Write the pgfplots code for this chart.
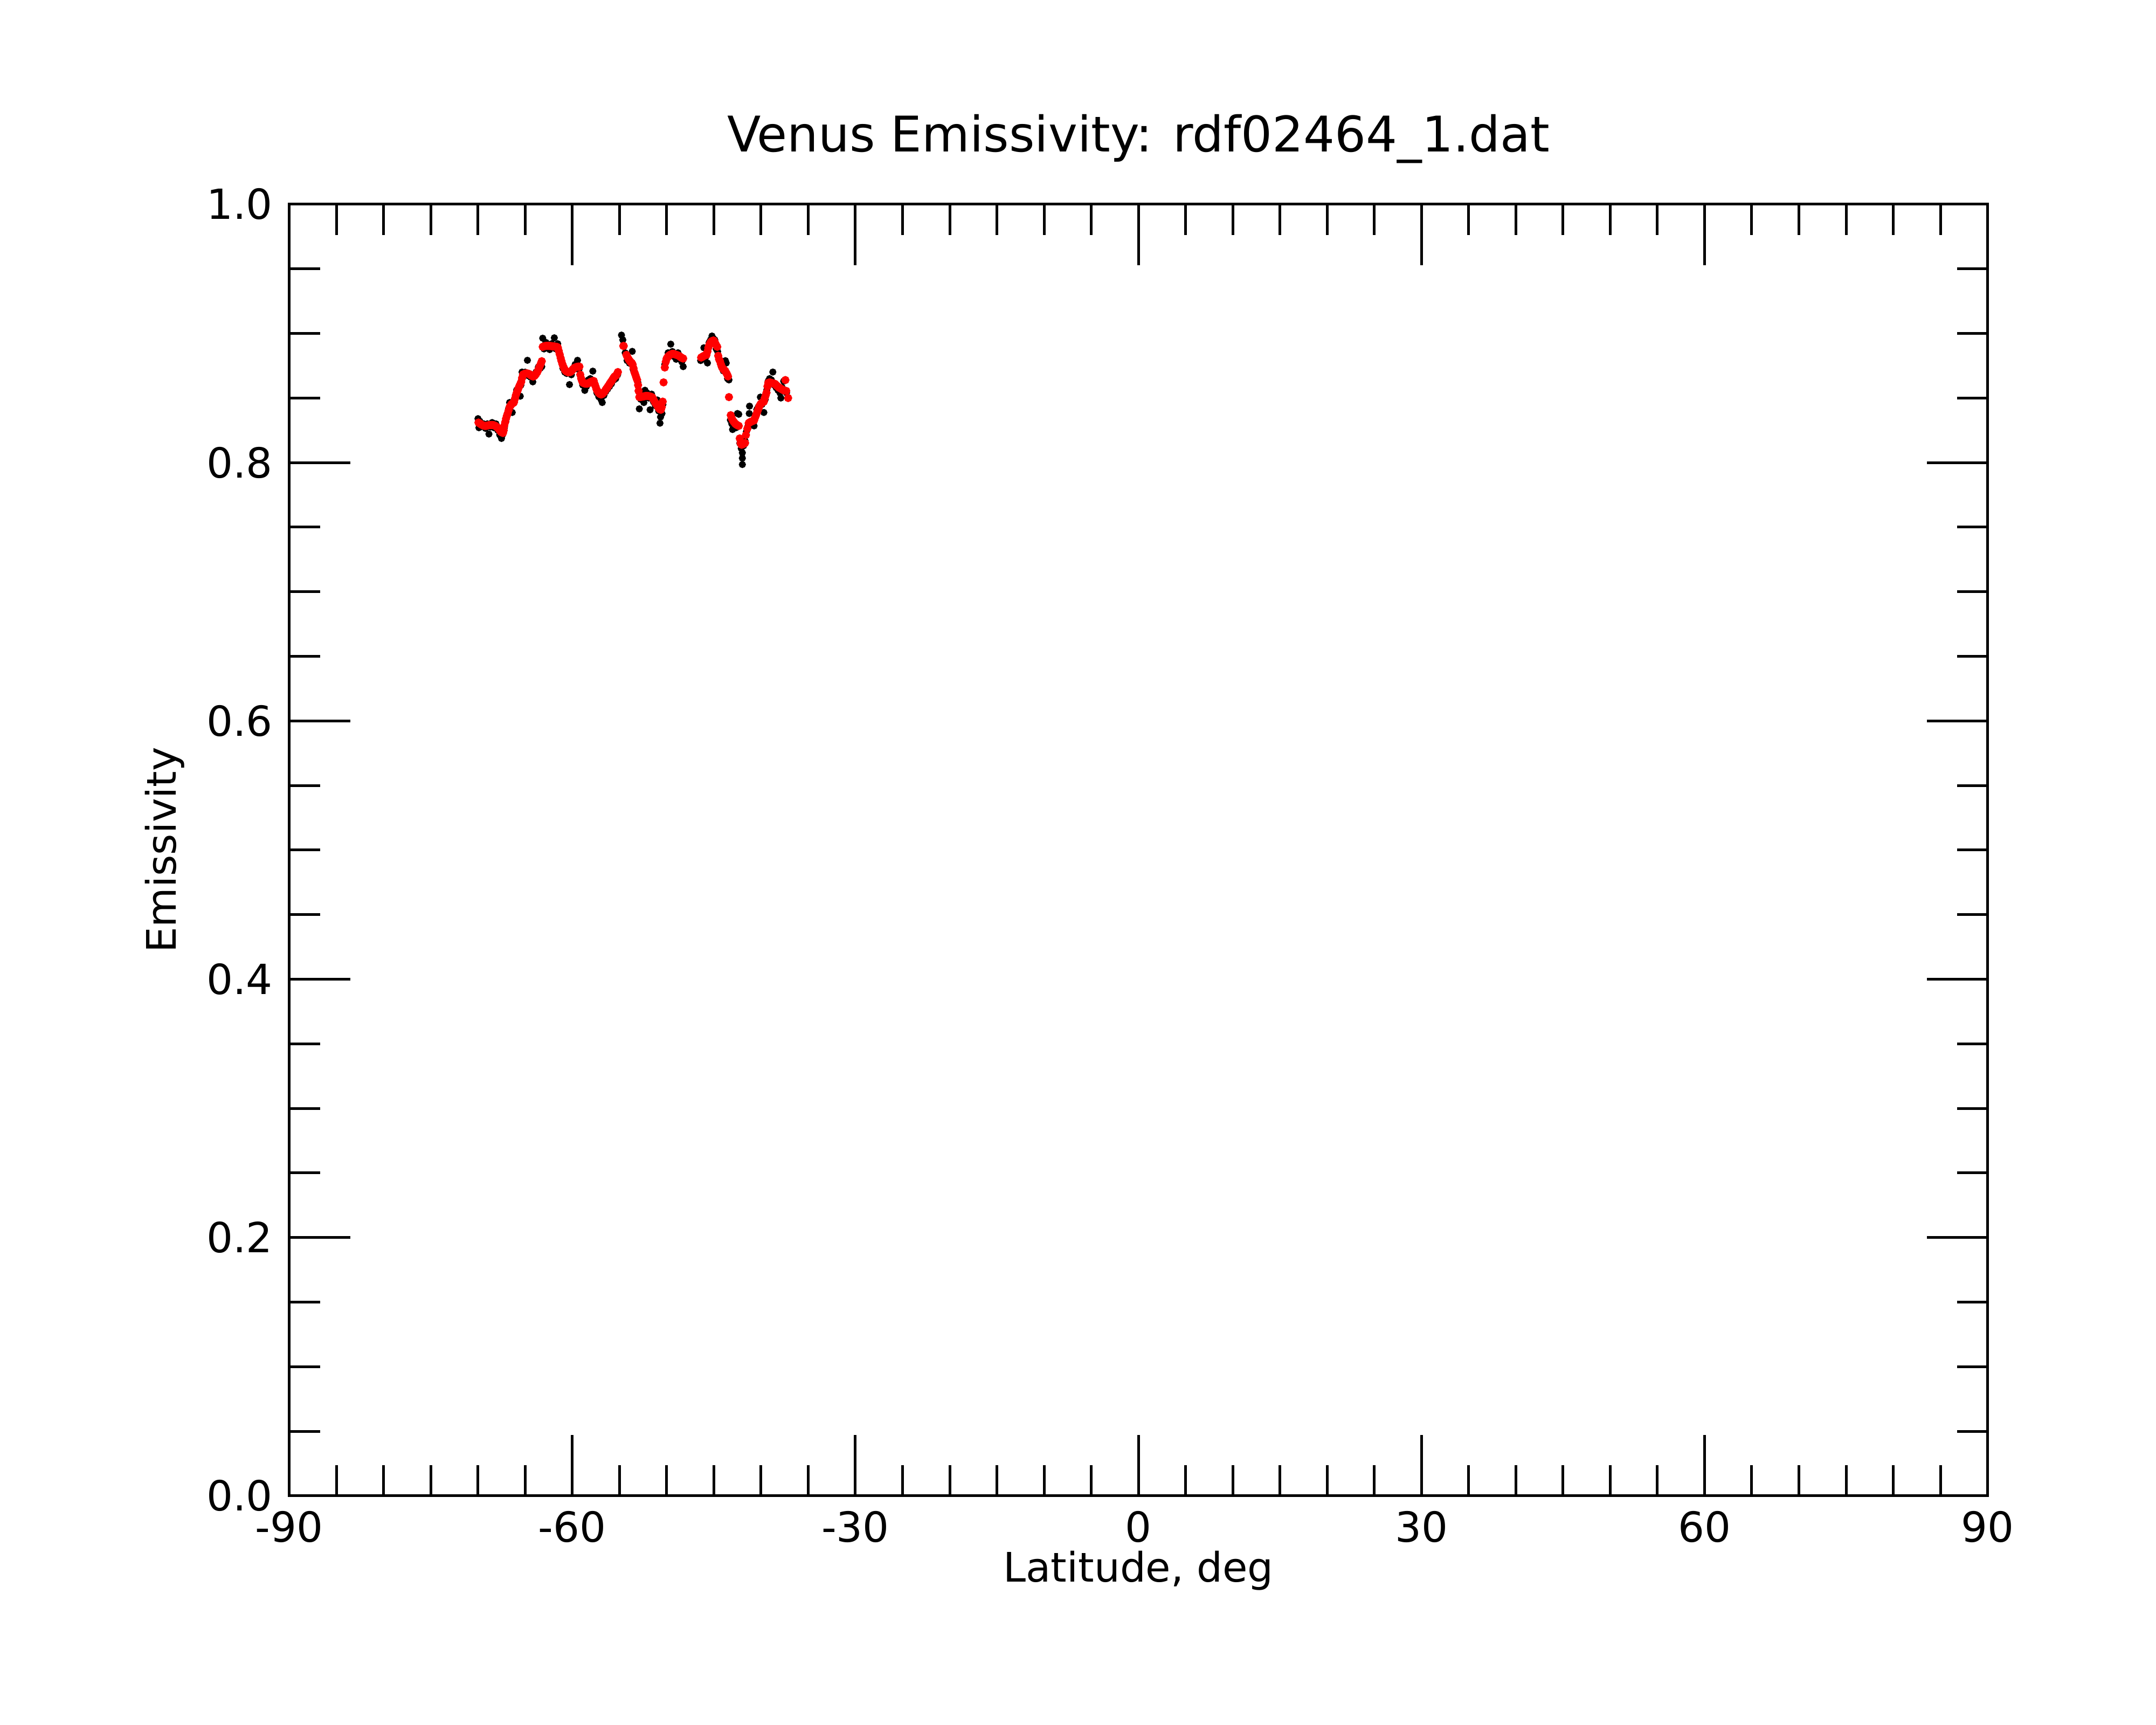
\documentclass[border=0pt]{standalone}
\usepackage{fontspec}
\setmainfont{DejaVu Sans}
\usepackage{pgfplots}
\pgfplotsset{compat=1.18}
\newcommand{\tickfont}{\fontsize{7.7pt}{9pt}\selectfont}
\newcommand{\labelfont}{\fontsize{7.55pt}{9pt}\selectfont}
\newcommand{\titlefont}{\fontsize{9.12pt}{11pt}\selectfont}
\begin{document}
\begin{tikzpicture}
\path[use as bounding box] (0,0) rectangle (400pt,320pt);
\begin{axis}[
  at={(53.67pt,42.5pt)}, anchor=south west,
  width=315.1pt, height=239.6pt, scale only axis,
  xmin=-90, xmax=90, ymin=0, ymax=1,
  xtick={-90,-60,-30,0,30,60,90},
  xticklabels={-90,-60,-30,0,30,60,90},
  ytick={0,0.2,0.4,0.6,0.8,1.0},
  yticklabels={0.0,0.2,0.4,0.6,0.8,1.0},
  minor x tick num=5, minor y tick num=3,
  tick align=inside,
  xtick pos=both, ytick pos=both,
  xticklabel pos=left, yticklabel pos=left,
  major tick length=11.3pt, minor tick length=5.7pt,
  axis line style={line width=0.5pt},
  every tick/.style={black, line width=0.5pt},
  major tick style={black, line width=0.5pt},
  minor tick style={black, line width=0.5pt},
  /pgf/number format/assume math mode=true,
  xticklabel style={font=\tickfont, anchor=north, inner sep=0pt, yshift=-2.6pt},
  yticklabel style={font=\tickfont, anchor=east, inner sep=0pt, xshift=-2.9pt},
  title={Venus Emissivity: rdf02464\_1.dat},
  every axis title/.style={font=\titlefont, at={(axis description cs:0.5,1)}, anchor=base, yshift=9.73pt, inner sep=0pt},
  xlabel={Latitude, deg},
  ylabel={Emissivity},
  every axis x label/.style={at={(axis description cs:0.5,0)}, anchor=base, yshift=-16.0pt, font=\labelfont, inner sep=0pt},
  every axis y label/.style={at={(axis description cs:0,0.5)}, xshift=-21.07pt, rotate=90, anchor=base, font=\labelfont, inner sep=0pt},
]
\addplot[only marks, mark=*, mark size=0.45pt, black, mark options={draw=black, fill=black}] coordinates {
(-70.00,0.8340) (-69.90,0.8270) (-69.80,0.8320) (-69.60,0.8280) (-69.40,0.8300)
(-69.20,0.8265) (-69.00,0.8300) (-68.84,0.8221) (-68.70,0.8275) (-68.50,0.8310)
(-68.30,0.8270) (-68.10,0.8300) (-67.90,0.8250) (-67.70,0.8215) (-67.51,0.8187)
(-67.40,0.8215) (-67.20,0.8270) (-67.05,0.8320) (-66.90,0.8365) (-66.75,0.8420)
(-66.65,0.8465) (-66.50,0.8440) (-66.37,0.8388) (-66.20,0.8480) (-66.05,0.8500)
(-65.90,0.8562) (-65.75,0.8560) (-65.52,0.8514) (-65.45,0.8600) (-65.33,0.8701)
(-65.20,0.8665) (-65.00,0.8700) (-64.76,0.8792) (-64.60,0.8670) (-64.40,0.8660)
(-64.19,0.8625) (-64.00,0.8680) (-63.85,0.8700) (-63.60,0.8740) (-63.40,0.8730)
(-63.24,0.8743) (-63.14,0.8963) (-63.00,0.8880) (-62.80,0.8930) (-62.60,0.8890)
(-62.40,0.8875) (-62.20,0.8920) (-61.91,0.8966) (-61.75,0.8880) (-61.55,0.8920)
(-61.40,0.8850) (-61.20,0.8790) (-61.00,0.8730) (-60.80,0.8700) (-60.60,0.8690)
(-60.30,0.8604) (-60.10,0.8680) (-59.90,0.8730) (-59.70,0.8760) (-59.45,0.8792)
(-59.30,0.8720) (-59.10,0.8660) (-58.90,0.8600) (-58.68,0.8559) (-58.50,0.8590)
(-58.30,0.8640) (-58.10,0.8650) (-57.83,0.8708) (-57.60,0.8600) (-57.40,0.8540)
(-57.20,0.8510) (-56.97,0.8490) (-56.83,0.8465) (-56.65,0.8520) (-56.45,0.8550)
(-56.25,0.8570) (-56.05,0.8590) (-55.85,0.8610) (-55.60,0.8640) (-55.40,0.8650)
(-55.20,0.8680) (-54.79,0.8987) (-54.65,0.8950) (-54.40,0.8850) (-54.20,0.8790)
(-53.95,0.8770) (-53.65,0.8861) (-53.55,0.8720) (-53.40,0.8690) (-53.20,0.8650)
(-53.05,0.8620) (-52.90,0.8416) (-52.75,0.8490) (-52.55,0.8530) (-52.42,0.8465)
(-52.30,0.8560) (-52.10,0.8540) (-51.90,0.8500) (-51.76,0.8409) (-51.60,0.8530)
(-51.40,0.8470) (-51.20,0.8440) (-51.00,0.8485) (-50.85,0.8400) (-50.71,0.8305)
(-50.65,0.8353) (-50.50,0.8380) (-50.40,0.8450) (-50.20,0.8760) (-50.05,0.8790)
(-49.85,0.8850) (-49.57,0.8917) (-49.40,0.8860) (-49.20,0.8820) (-49.00,0.8800)
(-48.80,0.8850) (-48.60,0.8800) (-48.40,0.8780) (-48.25,0.8743)
(-46.40,0.8790) (-46.20,0.8800) (-46.06,0.8889) (-45.90,0.8810) (-45.68,0.8771)
(-45.50,0.8930) (-45.35,0.8950) (-45.20,0.8980) (-45.05,0.8960) (-44.90,0.8950)
(-44.75,0.8880) (-44.60,0.8860) (-44.40,0.8790) (-44.20,0.8740) (-44.00,0.8710)
(-43.78,0.8789) (-43.69,0.8771) (-43.55,0.8650) (-43.40,0.8640) (-43.25,0.8330)
(-43.10,0.8300) (-43.02,0.8256) (-42.85,0.8290) (-42.65,0.8270) (-42.50,0.8380)
(-42.36,0.8374) (-42.25,0.8150) (-42.10,0.8110) (-41.98,0.8076) (-41.98,0.8034)
(-41.98,0.7985) (-41.85,0.8130) (-41.70,0.8170) (-41.55,0.8240) (-41.40,0.8280)
(-41.22,0.8437) (-41.25,0.8380) (-41.05,0.8300) (-40.90,0.8310) (-40.74,0.8284)
(-40.60,0.8350) (-40.45,0.8410) (-40.30,0.8430) (-40.07,0.8507) (-39.90,0.8450)
(-39.70,0.8388) (-39.55,0.8490) (-39.40,0.8560) (-39.25,0.8630) (-39.10,0.8650)
(-38.90,0.8640) (-38.75,0.8701) (-38.60,0.8600) (-38.40,0.8580) (-38.20,0.8560)
(-38.00,0.8540) (-37.90,0.8500) (-37.75,0.8580) (-37.60,0.8630) (-37.45,0.8550)
(-37.30,0.8540)
};
\addplot[only marks, mark=*, mark size=0.55pt, red, mark options={draw=red, fill=red}] coordinates {
(-69.95,0.8310) (-69.85,0.8305) (-69.75,0.8300) (-69.65,0.8295) (-69.55,0.8290)
(-69.45,0.8288) (-69.35,0.8285) (-69.25,0.8284) (-69.15,0.8284) (-69.05,0.8286)
(-68.95,0.8288) (-68.85,0.8290) (-68.75,0.8291) (-68.65,0.8291) (-68.55,0.8291)
(-68.45,0.8291) (-68.35,0.8290) (-68.25,0.8288) (-68.15,0.8284) (-68.05,0.8278)
(-67.95,0.8272) (-67.85,0.8265) (-67.75,0.8255) (-67.65,0.8245) (-67.55,0.8237)
(-67.45,0.8232) (-67.35,0.8229) (-67.27,0.8250) (-67.22,0.8284) (-67.12,0.8312)
(-67.03,0.8340) (-66.94,0.8362) (-66.85,0.8381) (-66.75,0.8405) (-66.65,0.8430)
(-66.55,0.8442) (-66.45,0.8452) (-66.35,0.8458) (-66.25,0.8462) (-66.18,0.8468)
(-66.08,0.8495) (-65.99,0.8521) (-65.90,0.8540) (-65.80,0.8558) (-65.71,0.8576)
(-65.62,0.8592) (-65.52,0.8608) (-65.42,0.8625) (-65.33,0.8655) (-65.23,0.8681)
(-65.13,0.8686) (-65.03,0.8688) (-64.93,0.8690) (-64.83,0.8690) (-64.73,0.8689)
(-64.63,0.8688) (-64.53,0.8684) (-64.43,0.8678) (-64.33,0.8672) (-64.23,0.8668)
(-64.13,0.8667) (-64.03,0.8670) (-63.93,0.8678) (-63.83,0.8688) (-63.71,0.8701)
(-63.60,0.8720) (-63.52,0.8735) (-63.43,0.8750) (-63.33,0.8768) (-63.24,0.8785)
(-63.14,0.8896) (-63.04,0.8900) (-62.94,0.8902) (-62.84,0.8903) (-62.74,0.8904)
(-62.64,0.8904) (-62.54,0.8904) (-62.44,0.8903) (-62.34,0.8903) (-62.24,0.8902)
(-62.14,0.8901) (-62.04,0.8900) (-61.94,0.8899) (-61.84,0.8898) (-61.74,0.8897)
(-61.62,0.8896) (-61.53,0.8890) (-61.44,0.8865) (-61.34,0.8838) (-61.24,0.8810)
(-61.15,0.8786) (-61.06,0.8764) (-60.96,0.8745) (-60.86,0.8728) (-60.77,0.8716)
(-60.67,0.8708) (-60.57,0.8703) (-60.48,0.8700) (-60.38,0.8700) (-60.29,0.8700)
(-60.20,0.8701) (-60.10,0.8708) (-60.01,0.8716) (-59.92,0.8724) (-59.82,0.8730)
(-59.73,0.8736) (-59.63,0.8739) (-59.53,0.8741) (-59.44,0.8742) (-59.35,0.8743)
(-59.25,0.8743) (-59.16,0.8681) (-59.06,0.8650) (-58.96,0.8630) (-58.87,0.8618)
(-58.77,0.8614) (-58.68,0.8612) (-58.58,0.8611) (-58.49,0.8611) (-58.40,0.8611)
(-58.30,0.8614) (-58.21,0.8618) (-58.11,0.8622) (-58.02,0.8626) (-57.92,0.8629)
(-57.83,0.8631) (-57.73,0.8632) (-57.64,0.8610) (-57.54,0.8590) (-57.45,0.8569)
(-57.35,0.8555) (-57.26,0.8545) (-57.16,0.8537) (-57.07,0.8531) (-56.97,0.8527)
(-56.88,0.8528) (-56.78,0.8534) (-56.69,0.8541) (-56.60,0.8548) (-56.50,0.8560)
(-56.41,0.8570) (-56.31,0.8580) (-56.22,0.8590) (-56.12,0.8600) (-56.03,0.8612)
(-55.93,0.8622) (-55.83,0.8632) (-55.74,0.8643) (-55.64,0.8655) (-55.55,0.8664)
(-55.45,0.8670) (-55.36,0.8674) (-55.26,0.8688) (-55.17,0.8701)
(-54.60,0.8903) (-54.55,0.8903) (-54.27,0.8834) (-54.18,0.8820) (-54.08,0.8806)
(-53.99,0.8795) (-53.89,0.8785) (-53.80,0.8777) (-53.70,0.8771) (-53.61,0.8760)
(-53.51,0.8730) (-53.42,0.8700) (-53.32,0.8680) (-53.23,0.8660) (-53.13,0.8640)
(-53.03,0.8600) (-52.98,0.8555) (-52.90,0.8507) (-52.80,0.8508) (-52.71,0.8509)
(-52.61,0.8510) (-52.52,0.8512) (-52.42,0.8513) (-52.33,0.8514) (-52.23,0.8516)
(-52.14,0.8516) (-52.04,0.8516) (-51.95,0.8515) (-51.85,0.8514) (-51.76,0.8512)
(-51.66,0.8510) (-51.56,0.8507) (-51.47,0.8498) (-51.37,0.8485) (-51.28,0.8472)
(-51.18,0.8460) (-51.09,0.8451) (-50.99,0.8440) (-50.90,0.8428) (-50.80,0.8418)
(-50.71,0.8411) (-50.61,0.8409) (-50.52,0.8430) (-50.42,0.8472) (-50.33,0.8621)
(-50.20,0.8736) (-50.10,0.8780) (-50.01,0.8805) (-49.91,0.8815) (-49.82,0.8823)
(-49.72,0.8830) (-49.63,0.8835) (-49.53,0.8839) (-49.44,0.8841) (-49.34,0.8842)
(-49.25,0.8841) (-49.15,0.8839) (-49.06,0.8836) (-48.96,0.8834) (-48.87,0.8832)
(-48.77,0.8829) (-48.68,0.8825) (-48.58,0.8820) (-48.49,0.8815) (-48.39,0.8810)
(-48.30,0.8807) (-48.25,0.8806)
(-46.35,0.8813) (-46.25,0.8817) (-46.16,0.8822) (-46.06,0.8826) (-45.97,0.8829)
(-45.87,0.8832) (-45.78,0.8834) (-45.68,0.8860) (-45.59,0.8890) (-45.49,0.8910)
(-45.40,0.8925) (-45.30,0.8935) (-45.20,0.8941) (-45.11,0.8944) (-45.01,0.8945)
(-44.92,0.8935) (-44.83,0.8920) (-44.73,0.8906) (-44.64,0.8896) (-44.54,0.8827)
(-44.45,0.8800) (-44.35,0.8785) (-44.26,0.8763) (-44.16,0.8743) (-44.07,0.8730)
(-43.97,0.8722) (-43.88,0.8715) (-43.78,0.8708) (-43.69,0.8695) (-43.59,0.8682)
(-43.50,0.8667) (-43.40,0.8507) (-43.21,0.8367) (-43.12,0.8345) (-43.02,0.8330)
(-42.93,0.8319) (-42.83,0.8310) (-42.74,0.8302) (-42.64,0.8296) (-42.55,0.8291)
(-42.45,0.8287) (-42.36,0.8284) (-42.26,0.8187) (-42.17,0.8150) (-42.07,0.8138)
(-41.98,0.8140) (-41.88,0.8143) (-41.79,0.8147) (-41.69,0.8152) (-41.60,0.8214)
(-41.45,0.8263) (-41.31,0.8305) (-41.22,0.8310) (-41.12,0.8315) (-41.03,0.8318)
(-40.93,0.8320) (-40.84,0.8323) (-40.74,0.8326) (-40.65,0.8345) (-40.55,0.8363)
(-40.46,0.8381) (-40.36,0.8400) (-40.27,0.8418) (-40.17,0.8437) (-40.08,0.8450)
(-39.98,0.8458) (-39.89,0.8464) (-39.79,0.8468) (-39.70,0.8472) (-39.61,0.8500)
(-39.51,0.8520) (-39.42,0.8541) (-39.32,0.8590) (-39.23,0.8618) (-39.13,0.8620)
(-39.04,0.8620) (-38.94,0.8618) (-38.85,0.8616) (-38.75,0.8614) (-38.66,0.8612)
(-38.56,0.8611) (-38.47,0.8605) (-38.37,0.8598) (-38.28,0.8592) (-38.18,0.8586)
(-38.09,0.8580) (-37.99,0.8576) (-37.90,0.8572) (-37.80,0.8568) (-37.71,0.8564)
(-37.61,0.8560) (-37.52,0.8557) (-37.42,0.8639) (-37.33,0.8555) (-37.13,0.8500)
};
\end{axis}
\end{tikzpicture}
\end{document}
